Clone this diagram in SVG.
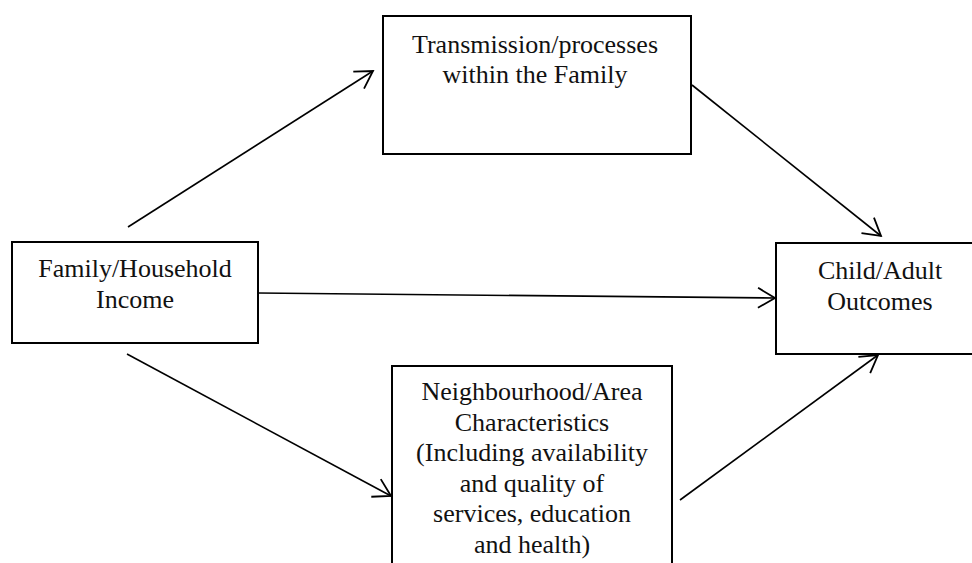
<svg xmlns="http://www.w3.org/2000/svg" width="972" height="563" viewBox="0 0 972 563">
<style>
.box{fill:#fff;stroke:#000;stroke-width:2}
.lbl{font-family:"Liberation Serif","Times New Roman",serif;font-size:26px;fill:#111;text-anchor:middle}
.con{stroke:#000;stroke-width:1.6;fill:none}
</style>
<defs>
<marker id="arr" markerUnits="userSpaceOnUse" markerWidth="40" markerHeight="40" viewBox="-20 -20 40 40" refX="0" refY="0" orient="auto">
<path d="M-17,-10 L0,0 L-17,10" fill="none" stroke="#000" stroke-width="1.8"/>
</marker>
</defs>
<rect width="972" height="563" fill="#fff"/>
<g id="connectors">
<line class="con" x1="128" y1="227" x2="373" y2="71" marker-end="url(#arr)"/>
<line class="con" x1="127" y1="354" x2="391" y2="496" marker-end="url(#arr)"/>
<line class="con" x1="258" y1="293" x2="775" y2="298" marker-end="url(#arr)"/>
<line class="con" x1="692" y1="85" x2="881" y2="236" marker-end="url(#arr)"/>
<line class="con" x1="680" y1="500" x2="878" y2="355" marker-end="url(#arr)"/>
</g>
<g id="transmission">
<rect class="box" x="383" y="16" width="308" height="138"/>
<text class="lbl" x="535" y="53">Transmission/processes</text>
<text class="lbl" x="535" y="83">within the Family</text>
</g>
<g id="income">
<rect class="box" x="12" y="242" width="246" height="101"/>
<text class="lbl" x="135" y="277">Family/Household</text>
<text class="lbl" x="135" y="308">Income</text>
</g>
<g id="outcomes">
<rect class="box" x="776" y="243" width="210" height="111"/>
<text class="lbl" x="880" y="279">Child/Adult</text>
<text class="lbl" x="880" y="310">Outcomes</text>
</g>
<g id="neighbourhood">
<rect class="box" x="392" y="366" width="280" height="210"/>
<text class="lbl" x="532" y="400">Neighbourhood/Area</text>
<text class="lbl" x="532" y="430.5">Characteristics</text>
<text class="lbl" x="532" y="461">(Including availability</text>
<text class="lbl" x="532" y="491.5">and quality of</text>
<text class="lbl" x="532" y="522">services, education</text>
<text class="lbl" x="532" y="552.5">and health)</text>
</g>
</svg>
